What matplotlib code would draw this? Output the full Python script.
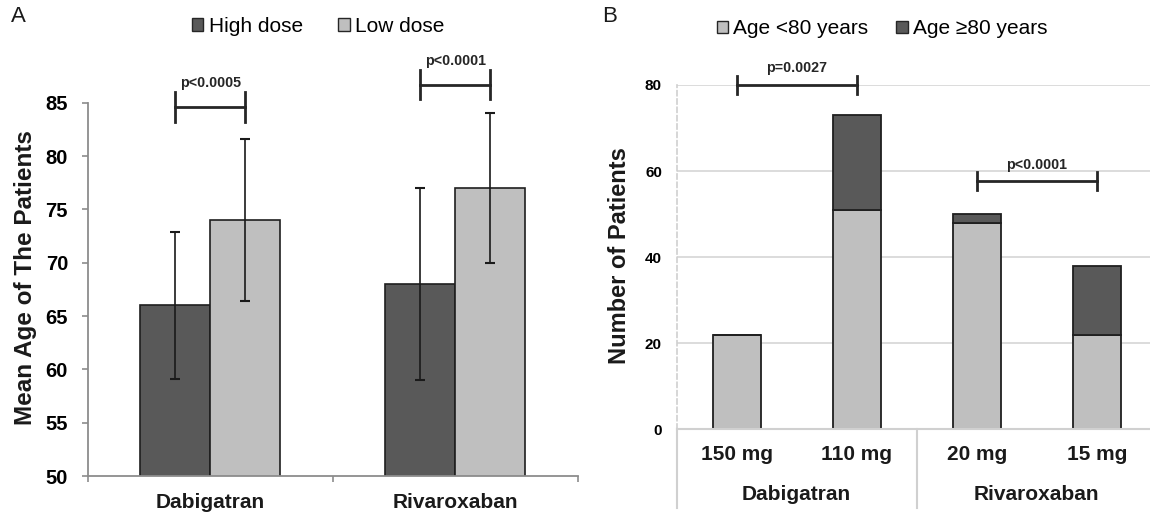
import numpy as np
import matplotlib
matplotlib.use("Agg")
import matplotlib.pyplot as plt
import matplotlib.transforms as mtransforms
from matplotlib.patches import Patch

plt.rcParams['font.family'] = ['Liberation Sans', 'DejaVu Sans']

# panel A: mean age by dose
drugs = ['Dabigatran', 'Rivaroxaban']
high_mean = [66, 68]
high_sd = [6.9, 9.0]
low_mean = [74, 77]
low_sd = [7.6, 7.0]
p_a = ['p<0.0005', 'p<0.0001']

# panel B: patient counts by dose and age group
doses = ['150 mg', '110 mg', '20 mg', '15 mg']
dose_drug = ['Dabigatran', 'Dabigatran', 'Rivaroxaban', 'Rivaroxaban']
under80 = [22, 51, 48, 22]
over80 = [0, 22, 2, 16]
p_b = ['p=0.0027', 'p<0.0001']

dark = '#595959'
light = '#bfbfbf'
edge = '#1f1f1f'
ink = '#262626'

fig = plt.figure(figsize=(11.5, 5.14), dpi=100)
axA = fig.add_axes([0.0765, 0.0739, 0.4261, 0.7263])
axB = fig.add_axes([0.5884, 0.1648, 0.4116, 0.6699])

# ---- A ----
xa = np.arange(len(drugs))
w = 0.2857
axA.bar(xa - w/2, high_mean, w, color=dark, edgecolor=edge, linewidth=1.2, zorder=2)
axA.bar(xa + w/2, low_mean, w, color=light, edgecolor=edge, linewidth=1.2, zorder=2)
axA.errorbar(xa - w/2, high_mean, yerr=high_sd, fmt='none', ecolor='#1a1a1a',
             elinewidth=1.2, capsize=3.5, capthick=1.5, zorder=3)
axA.errorbar(xa + w/2, low_mean, yerr=low_sd, fmt='none', ecolor='#1a1a1a',
             elinewidth=1.2, capsize=3.5, capthick=1.5, zorder=3)
axA.set_xlim(-0.5, len(drugs) - 0.5)
axA.set_ylim(50, 85)
axA.set_yticks(range(50, 90, 5))
for s in ['top', 'right']:
    axA.spines[s].set_visible(False)
for s in ['left', 'bottom']:
    axA.spines[s].set_color('#8c8c8c')
    axA.spines[s].set_linewidth(1.3)
axA.tick_params(axis='y', direction='out', length=4.3, width=1.2, color='#8c8c8c',
                pad=10, labelsize=14.5)
for t in axA.get_yticklabels():
    t.set_fontweight('bold')
axA.set_xticks(xa)
axA.set_xticklabels([])
axA.tick_params(axis='x', which='major', length=0)
axA.set_xticks(np.arange(-0.5, len(drugs), 1.0), minor=True)
axA.tick_params(axis='x', which='minor', direction='out', length=4, width=1.2, color='#8c8c8c')
transA = mtransforms.blended_transform_factory(axA.transData, axA.transAxes)
for i, name in enumerate(drugs):
    axA.text(xa[i], -0.072, name, transform=transA, ha='center', va='center',
             fontsize=15, fontweight='bold', color='#1a1a1a')
axA.set_ylabel('Mean Age of The Patients', fontsize=17.5, fontweight='bold', color='#1a1a1a')
axA.yaxis.set_label_coords(-0.105, 0.532)

for i, yb in zip(xa, [84.6, 86.7]):
    x1, x2 = i - w/2, i + w/2
    axA.plot([x1, x2], [yb, yb], color=ink, lw=2, clip_on=False)
    axA.plot([x1, x1], [yb - 1.4, yb + 1.4], color=ink, lw=2, clip_on=False)
    axA.plot([x2, x2], [yb - 1.4, yb + 1.4], color=ink, lw=2, clip_on=False)
    axA.text(i, yb + 2.2, p_a[i], ha='center', va='center', fontsize=10.3,
             fontweight='bold', color=ink)

fig.legend([Patch(facecolor=dark, edgecolor=ink, lw=1), Patch(facecolor=light, edgecolor=ink, lw=1)],
           ['High dose', 'Low dose'], loc='center', bbox_to_anchor=(0.2765, 0.949),
           ncol=2, frameon=False, fontsize=15, borderpad=0, handlelength=0.55,
           handleheight=0.55, handletextpad=0.25, columnspacing=1.7)

# ---- B ----
xb = np.arange(len(doses))
wb = 0.4
axB.bar(xb, under80, wb, color=light, edgecolor=edge, linewidth=1.3, zorder=2)
axB.bar(xb, over80, wb, bottom=under80, color=dark, edgecolor=edge, linewidth=1.3, zorder=2)
axB.set_xlim(-0.5, -0.5 + 473.3 / 120)
axB.set_ylim(0, 80)
axB.set_yticks(range(0, 81, 20))
axB.yaxis.grid(True, color='#d9d9d9', lw=1.3, zorder=0)
axB.set_axisbelow(True)
for s in ['top', 'right']:
    axB.spines[s].set_visible(False)
axB.spines['left'].set_color('#cfcfcf')
axB.spines['left'].set_linestyle((0, (3, 2)))
axB.spines['left'].set_linewidth(1.2)
axB.spines['bottom'].set_color('#d0d0d0')
axB.spines['bottom'].set_linewidth(1.5)
axB.tick_params(axis='y', length=0, pad=10.6, labelsize=11)
for t in axB.get_yticklabels():
    t.set_fontweight('bold')
axB.set_xticks([])
transB = mtransforms.blended_transform_factory(axB.transData, axB.transAxes)
for i, d in enumerate(doses):
    axB.text(xb[i], -0.0746, d, transform=transB, ha='center', va='center',
             fontsize=15, fontweight='bold', color='#1a1a1a')
groups = list(dict.fromkeys(dose_drug))
for g in groups:
    pos = [xb[i] for i, dd in enumerate(dose_drug) if dd == g]
    axB.text(np.mean(pos), -0.1908, g, transform=transB, ha='center', va='center',
             fontsize=15, fontweight='bold', color='#1a1a1a')
    axB.plot([min(pos) - 0.5, min(pos) - 0.5], [0, -0.2286], transform=transB,
             color='#d0d0d0', lw=1.5, clip_on=False)
axB.set_ylabel('Number of Patients', fontsize=17, fontweight='bold', color='#1a1a1a')
axB.yaxis.set_label_coords(-0.097, 0.506)

for k, (yb, dt) in enumerate([(80, 3.9), (57.6, 3.7)]):
    x1, x2 = xb[2*k], xb[2*k + 1]
    axB.plot([x1, x2], [yb, yb], color=ink, lw=2, clip_on=False, zorder=4)
    axB.plot([x1, x1], [yb - 2.1, yb + 2.1], color=ink, lw=2, clip_on=False, zorder=4)
    axB.plot([x2, x2], [yb - 2.1, yb + 2.1], color=ink, lw=2, clip_on=False, zorder=4)
    axB.text((x1 + x2) / 2, yb + dt, p_b[k], ha='center', va='center', fontsize=10.3,
             fontweight='bold', color=ink)

fig.legend([Patch(facecolor=light, edgecolor=ink, lw=1), Patch(facecolor=dark, edgecolor=ink, lw=1)],
           ['Age <80 years', 'Age \u226580 years'], loc='center', bbox_to_anchor=(0.767, 0.944),
           ncol=2, frameon=False, fontsize=15, borderpad=0, handlelength=0.55,
           handleheight=0.55, handletextpad=0.25, columnspacing=1.35)

fig.text(18 / 1150, 1 - 16 / 514, 'A', fontsize=16, ha='center', va='center', color='#1a1a1a')
fig.text(610 / 1150, 1 - 17 / 514, 'B', fontsize=16, ha='center', va='center', color='#1a1a1a')

fig.savefig('out.png', dpi=100)
